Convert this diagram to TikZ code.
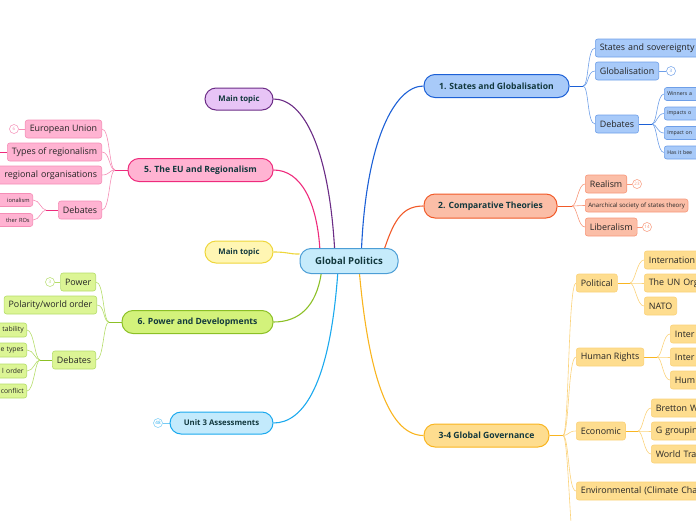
\documentclass[tikz,border=0pt]{standalone}
\usepackage{fontspec}
\setmainfont{Open Sans}
\usetikzlibrary{backgrounds}

\definecolor{txtdark}{HTML}{12383D}
\definecolor{cenfill}{HTML}{C6EBFB}
\definecolor{cendraw}{HTML}{4C9ED6}
\definecolor{purfill}{HTML}{E7C4F6}
\definecolor{purdraw}{HTML}{6B2C86}
\definecolor{pinkfill}{HTML}{FFB3D2}
\definecolor{pinkdraw}{HTML}{EE2B7C}
\definecolor{pinklite}{HTML}{F58DB6}
\definecolor{yelfill}{HTML}{FFF6B3}
\definecolor{yeldraw}{HTML}{EED63B}
\definecolor{grnfill}{HTML}{D3F27B}
\definecolor{grndraw}{HTML}{8CC026}
\definecolor{grnlite}{HTML}{B5DD6A}
\definecolor{cyanfill}{HTML}{C3EAFC}
\definecolor{cyandraw}{HTML}{1BA9EE}
\definecolor{bluefill}{HTML}{A8CAF9}
\definecolor{bluedraw}{HTML}{1C60D6}
\definecolor{bluelite}{HTML}{6E9FE8}
\definecolor{orgfill}{HTML}{FBBEA7}
\definecolor{orgdraw}{HTML}{F15A29}
\definecolor{orglite}{HTML}{F7977A}
\definecolor{golfill}{HTML}{FEDD8F}
\definecolor{goldraw}{HTML}{F9B520}
\definecolor{gollite}{HTML}{FBD27A}

\tikzset{
	branch/.style={rectangle, rounded corners=11pt, minimum height=23pt, line width=1pt, text=txtdark, inner xsep=0pt, font=\bfseries\fontsize{8.6}{10}\selectfont},
	mtopic/.style={branch, minimum height=22pt, font=\bfseries\fontsize{7.8}{9}\selectfont},
	leaf/.style={rectangle, rounded corners=2.5pt, minimum height=18pt, line width=0.6pt, text=black!85, inner xsep=4.5pt, font=\fontsize{8.9}{10}\selectfont},
	twig/.style={leaf, minimum height=13pt, inner xsep=3pt, font=\fontsize{5.7}{6}\selectfont},
	badge/.style={circle, fill=white, line width=0.5pt, inner sep=0pt, minimum size=9pt, font=\fontsize{4.5}{5}\selectfont},
	mainlink/.style={line width=1.1pt},
	sublink/.style={line width=0.6pt}
}

\begin{document}
\begin{tikzpicture}[x=1pt,y=-1pt]
			%%%%% START %%%%%
			\useasboundingbox (0,0) rectangle (696,520);
			
			\node[branch, fill=cenfill, draw=cendraw, minimum width=98pt, minimum height=25pt, font=\bfseries\fontsize{9.6}{11}\selectfont] (gp) at (349,261) {Global Politics};
			
			% left branches
			\node[mtopic, fill=purfill, draw=purdraw, minimum width=68pt] (maina) at (239,99) {Main topic};
			\node[branch, fill=pinkfill, draw=pinkdraw, minimum width=145pt] (eu) at (200.5,170) {5. The EU and Regionalism};
			\node[mtopic, fill=yelfill, draw=yeldraw, minimum width=68pt] (mainb) at (239,252) {Main topic};
			\node[branch, fill=grnfill, draw=grndraw, minimum width=151pt] (power) at (197.5,322) {6. Power and Developments};
			\node[mtopic, fill=cyanfill, draw=cyandraw, minimum width=103pt] (unit) at (221.5,423) {Unit 3 Assessments};
			\node[badge, draw=cyandraw!60, text=cyandraw] (unit-n) at (158,423) {48};
			
			% right branches
			\node[branch, fill=bluefill, draw=bluedraw, minimum width=145pt] (states) at (496.5,86) {1. States and Globalisation};
			\node[branch, fill=orgfill, draw=orgdraw, minimum width=133pt, minimum height=24pt] (comp) at (490.5,206) {2. Comparative Theories};
			\node[branch, fill=golfill, draw=goldraw, minimum width=125pt] (gov) at (486.5,435.5) {3-4 Global Governance};
			
			% 1. States and Globalisation
			\node[leaf, fill=bluefill, draw=bluelite, anchor=west, text width=110pt, align=left] (sov) at (595,48) {States and sovereignty};
			\node[leaf, fill=bluefill, draw=bluelite, anchor=west] (glob) at (595,71) {Globalisation};
			\node[badge, draw=bluelite, text=bluelite] (glob-n) at (671,71) {3};
			\node[leaf, fill=bluefill, draw=bluelite, anchor=west] (sdeb) at (595,124) {Debates};
			\node[twig, fill=bluefill, draw=bluelite, anchor=west, text width=45pt, align=left, font=\fontsize{5.2}{6}\selectfont] (sdeba) at (664,94) {Winners a};
			\node[twig, fill=bluefill, draw=bluelite, anchor=west, text width=45pt, align=left, font=\fontsize{5.2}{6}\selectfont] (sdebb) at (664,113.5) {impacts o};
			\node[twig, fill=bluefill, draw=bluelite, anchor=west, text width=45pt, align=left, font=\fontsize{5.2}{6}\selectfont] (sdebc) at (664,133) {Impact on};
			\node[twig, fill=bluefill, draw=bluelite, anchor=west, text width=45pt, align=left, font=\fontsize{5.2}{6}\selectfont] (sdebd) at (664,152.5) {Has it bee};
			
			% 2. Comparative Theories
			\node[leaf, fill=orgfill, draw=orglite, anchor=west] (real) at (585,184) {Realism};
			\node[badge, draw=orglite, text=orglite] (real-n) at (637,184) {23};
			\node[twig, fill=orgfill, draw=orglite, anchor=west, font=\fontsize{6.1}{7}\selectfont] (anarch) at (585,205.5) {Anarchical society of states theory};
			\node[leaf, fill=orgfill, draw=orglite, anchor=west] (lib) at (585,227) {Liberalism};
			\node[badge, draw=orglite, text=orglite] (lib-n) at (647,227) {14};
			
			% 3-4 Global Governance
			\node[leaf, fill=golfill, draw=gollite, anchor=west] (pol) at (576,283) {Political};
			\node[leaf, fill=golfill, draw=gollite, anchor=west, text width=60pt, align=left] (pola) at (644,260) {Internation};
			\node[leaf, fill=golfill, draw=gollite, anchor=west, text width=60pt, align=left] (polb) at (644,283) {The UN Org};
			\node[leaf, fill=golfill, draw=gollite, anchor=west] (polc) at (644,306) {NATO};
			\node[leaf, fill=golfill, draw=gollite, anchor=west] (hr) at (576,357) {Human Rights};
			\node[leaf, fill=golfill, draw=gollite, anchor=west, text width=40pt, align=left] (hra) at (670,334) {Inter};
			\node[leaf, fill=golfill, draw=gollite, anchor=west, text width=40pt, align=left] (hrb) at (670,357) {Inter};
			\node[leaf, fill=golfill, draw=gollite, anchor=west, text width=40pt, align=left] (hrc) at (670,380) {Hum};
			\node[leaf, fill=golfill, draw=gollite, anchor=west] (econ) at (576,431) {Economic};
			\node[leaf, fill=golfill, draw=gollite, anchor=west, text width=55pt, align=left] (econa) at (651,408) {Bretton W};
			\node[leaf, fill=golfill, draw=gollite, anchor=west, text width=55pt, align=left] (econb) at (651,431) {G groupin};
			\node[leaf, fill=golfill, draw=gollite, anchor=west, text width=55pt, align=left] (econc) at (651,454) {World Tra};
			\node[leaf, fill=golfill, draw=gollite, anchor=west, text width=130pt, align=left] (env) at (576,491) {Environmental (Climate Cha};
			\coordinate (gov-off) at (578,570);
			
			% 5. The EU and Regionalism
			\node[leaf, fill=pinkfill, draw=pinklite, anchor=east] (euun) at (102,129) {European Union};
			\node[badge, draw=pinklite, text=pinklite] (euun-n) at (14,129) {6};
			\node[leaf, fill=pinkfill, draw=pinklite, anchor=east] (types) at (102,152) {Types of regionalism};
			\coordinate (types-off) at (-10,152);
			\node[leaf, fill=pinkfill, draw=pinklite, anchor=east, text width=125pt, align=right] (others) at (102,175) {regional organisations};
			\node[leaf, fill=pinkfill, draw=pinklite, anchor=east] (eudeb) at (102,210) {Debates};
			\node[twig, fill=pinkfill, draw=pinklite, anchor=east, text width=40pt, align=right] (eudeba) at (33,200) {ionalism};
			\node[twig, fill=pinkfill, draw=pinklite, anchor=east, text width=40pt, align=right] (eudebb) at (33,220) {ther ROs};
			
			% 6. Power and Developments
			\node[leaf, fill=grnfill!80, draw=grnlite, anchor=east] (pow) at (96,282) {Power};
			\node[badge, draw=grnlite, text=grnlite] (pow-n) at (50,282) {3};
			\node[leaf, fill=grnfill!80, draw=grnlite, anchor=east] (polar) at (97,305) {Polarity/world order};
			\node[leaf, fill=grnfill!80, draw=grnlite, anchor=east] (pdeb) at (96,360) {Debates};
			\node[twig, fill=grnfill!80, draw=grnlite, anchor=east, text width=40pt, align=right, minimum height=14pt, font=\fontsize{6.8}{8}\selectfont] (pdeba) at (27,330) {tability};
			\node[twig, fill=grnfill!80, draw=grnlite, anchor=east, text width=40pt, align=right, minimum height=14pt, font=\fontsize{6.8}{8}\selectfont] (pdebb) at (27,350) {e types};
			\node[twig, fill=grnfill!80, draw=grnlite, anchor=east, text width=40pt, align=right, minimum height=14pt, font=\fontsize{6.8}{8}\selectfont] (pdebc) at (27,371) {l order};
			\node[twig, fill=grnfill!80, draw=grnlite, anchor=east, text width=40pt, align=right, minimum height=14pt, font=\fontsize{6.8}{8}\selectfont] (pdebd) at (27,391) {conflict};
			
			% junctions
			\coordinate (j-states) at (583,86);
			\coordinate (j-sdeb) at (652,124);
			\coordinate (j-comp) at (572,206);
			\coordinate (j-gov) at (563,435.5);
			\coordinate (j-pol) at (630,283);
			\coordinate (j-hr) at (657,357);
			\coordinate (j-econ) at (638,431);
			\coordinate (j-eu) at (115,170);
			\coordinate (j-eudeb) at (46,210);
			\coordinate (j-power) at (109,322);
			\coordinate (j-pdeb) at (40,360);
			
			\begin{scope}[on background layer]
			% main links
			\draw[mainlink, purdraw] (maina.east) .. controls +(30,0) and +(-6,-100) .. (gp.138);
			\draw[mainlink, pinkdraw] (eu.east) .. controls +(28,0) and +(-3,-45) .. (gp.156);
			\draw[mainlink, yeldraw] (mainb.east) .. controls +(15,0) and +(-12,0) .. (gp.172);
			\draw[mainlink, grndraw] (gp.205) .. controls +(-5,32) and +(26,0) .. (power.east);
			\draw[mainlink, cyandraw] (gp.229) .. controls +(-8,110) and +(30,0) .. (unit.east);
			\draw[sublink, cyandraw!60] (unit.west) -- (unit-n);
			\draw[mainlink, bluedraw] (gp.46) .. controls +(5,-110) and +(-28,0) .. (states.west);
			\draw[mainlink, orgdraw] (gp.20) .. controls +(10,-30) and +(-20,0) .. (comp.west);
			\draw[mainlink, goldraw] (gp.309) .. controls +(10,110) and +(-32,0) .. (gov.west);
			
			% states
			\draw[sublink, bluedraw] (states.east) -- (j-states);
			\draw[sublink, bluelite] (j-states) .. controls +(6,0) and +(-8,0) .. (sov.west);
			\draw[sublink, bluelite] (j-states) .. controls +(6,0) and +(-8,0) .. (glob.west);
			\draw[sublink, bluelite] (j-states) .. controls +(6,0) and +(-8,0) .. (sdeb.west);
			\draw[sublink, bluelite] (glob.east) -- (glob-n);
			\draw[sublink, bluedraw] (sdeb.east) -- (j-sdeb);
			\draw[sublink, bluelite] (j-sdeb) .. controls +(5,0) and +(-7,0) .. (sdeba.west);
			\draw[sublink, bluelite] (j-sdeb) .. controls +(5,0) and +(-7,0) .. (sdebb.west);
			\draw[sublink, bluelite] (j-sdeb) .. controls +(5,0) and +(-7,0) .. (sdebc.west);
			\draw[sublink, bluelite] (j-sdeb) .. controls +(5,0) and +(-7,0) .. (sdebd.west);
			
			% comparative
			\draw[sublink, orgdraw] (comp.east) -- (j-comp);
			\draw[sublink, orglite] (j-comp) .. controls +(5,0) and +(-7,0) .. (real.west);
			\draw[sublink, orglite] (j-comp) .. controls +(5,0) and +(-7,0) .. (anarch.west);
			\draw[sublink, orglite] (j-comp) .. controls +(5,0) and +(-7,0) .. (lib.west);
			\draw[sublink, orglite] (real.east) -- (real-n);
			\draw[sublink, orglite] (lib.east) -- (lib-n);
			
			% governance
			\draw[sublink, goldraw] (gov.east) -- (j-gov);
			\draw[sublink, gollite] (j-gov) .. controls +(6,0) and +(-8,0) .. (pol.west);
			\draw[sublink, gollite] (j-gov) .. controls +(6,0) and +(-8,0) .. (hr.west);
			\draw[sublink, gollite] (j-gov) .. controls +(6,0) and +(-8,0) .. (econ.west);
			\draw[sublink, gollite] (j-gov) .. controls +(6,0) and +(-8,0) .. (env.west);
			\draw[sublink, gollite] (j-gov) .. controls +(6,0) and +(-8,0) .. (gov-off);
			\draw[sublink, goldraw] (pol.east) -- (j-pol);
			\draw[sublink, gollite] (j-pol) .. controls +(5,0) and +(-7,0) .. (pola.west);
			\draw[sublink, gollite] (j-pol) .. controls +(5,0) and +(-7,0) .. (polb.west);
			\draw[sublink, gollite] (j-pol) .. controls +(5,0) and +(-7,0) .. (polc.west);
			\draw[sublink, goldraw] (hr.east) -- (j-hr);
			\draw[sublink, gollite] (j-hr) .. controls +(5,0) and +(-7,0) .. (hra.west);
			\draw[sublink, gollite] (j-hr) .. controls +(5,0) and +(-7,0) .. (hrb.west);
			\draw[sublink, gollite] (j-hr) .. controls +(5,0) and +(-7,0) .. (hrc.west);
			\draw[sublink, goldraw] (econ.east) -- (j-econ);
			\draw[sublink, gollite] (j-econ) .. controls +(5,0) and +(-7,0) .. (econa.west);
			\draw[sublink, gollite] (j-econ) .. controls +(5,0) and +(-7,0) .. (econb.west);
			\draw[sublink, gollite] (j-econ) .. controls +(5,0) and +(-7,0) .. (econc.west);
			
			% eu
			\draw[sublink, pinkdraw] (eu.west) -- (j-eu);
			\draw[sublink, pinklite] (j-eu) .. controls +(-6,0) and +(8,0) .. (euun.east);
			\draw[sublink, pinklite] (j-eu) .. controls +(-6,0) and +(8,0) .. (types.east);
			\draw[sublink, pinklite] (j-eu) .. controls +(-6,0) and +(8,0) .. (others.east);
			\draw[sublink, pinklite] (j-eu) .. controls +(-6,0) and +(8,0) .. (eudeb.east);
			\draw[sublink, pinklite] (euun.west) -- (euun-n);
			\draw[sublink, pinkdraw] (types.west) -- (types-off);
			\draw[sublink, pinkdraw] (eudeb.west) -- (j-eudeb);
			\draw[sublink, pinklite] (j-eudeb) .. controls +(-5,0) and +(7,0) .. (eudeba.east);
			\draw[sublink, pinklite] (j-eudeb) .. controls +(-5,0) and +(7,0) .. (eudebb.east);
			
			% power
			\draw[sublink, grndraw] (power.west) -- (j-power);
			\draw[sublink, grnlite] (j-power) .. controls +(-6,0) and +(8,0) .. (pow.east);
			\draw[sublink, grnlite] (j-power) .. controls +(-6,0) and +(8,0) .. (polar.east);
			\draw[sublink, grnlite] (j-power) .. controls +(-6,0) and +(8,0) .. (pdeb.east);
			\draw[sublink, grnlite] (pow.west) -- (pow-n);
			\draw[sublink, grndraw] (pdeb.west) -- (j-pdeb);
			\draw[sublink, grnlite] (j-pdeb) .. controls +(-5,0) and +(7,0) .. (pdeba.east);
			\draw[sublink, grnlite] (j-pdeb) .. controls +(-5,0) and +(7,0) .. (pdebb.east);
			\draw[sublink, grnlite] (j-pdeb) .. controls +(-5,0) and +(7,0) .. (pdebc.east);
			\draw[sublink, grnlite] (j-pdeb) .. controls +(-5,0) and +(7,0) .. (pdebd.east);
			\end{scope}
			%%%%% END %%%%%
\end{tikzpicture}
\end{document}
